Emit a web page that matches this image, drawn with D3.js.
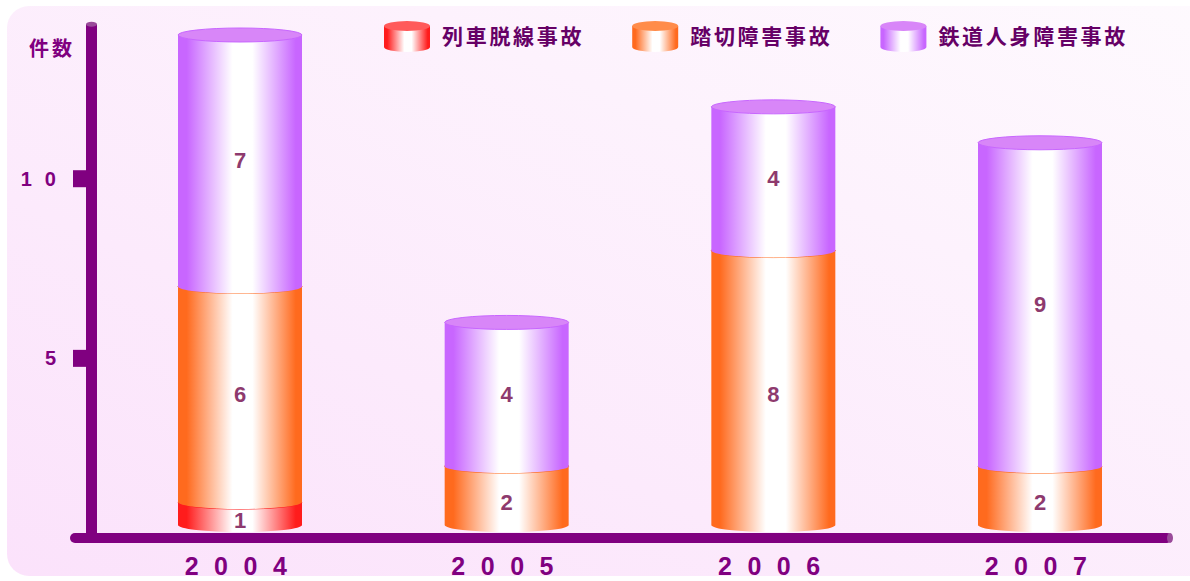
<!DOCTYPE html>
<html><head><meta charset="utf-8">
<script src="https://cdn.jsdelivr.net/npm/d3@7/dist/d3.min.js"></script>
<style>html,body{margin:0;padding:0;background:#fff;}svg{display:block;}</style>
</head><body>
<script>
const years = ["2004","2005","2006","2007"];
const seriesNames = ["列車脱線事故","踏切障害事故","鉄道人身障害事故"];
const derailment = [1,0,0,0];
const crossing = [6,2,8,2];
const injury = [7,4,4,9];
const yTicks = [5,10];
const yTickLabels = ["5","10"];
const yTitle = "件数";

const W=1190,H=581;
const colors = ["#ff1c1c","#ff6a1e","#c866ff"];
const topColors = ["#ff5a5a","#ff8c4a","#d886f8"];
const svg = d3.select("body").append("svg").attr("width",W).attr("height",H);
const defs = svg.append("defs");

const bg = defs.append("linearGradient").attr("id","bg").attr("x1",0).attr("y1",1).attr("x2",1).attr("y2",0);
bg.append("stop").attr("offset",0).attr("stop-color","#fbe2fb");
bg.append("stop").attr("offset",1).attr("stop-color","#fefafe");
colors.forEach((c,i)=>{
  const g = defs.append("linearGradient").attr("id","cyl"+i).attr("x1",0).attr("x2",1).attr("y1",0).attr("y2",0);
  [[0,c],[0.07,c],[0.44,"#ffffff"],[0.6,"#ffffff"],[0.95,c],[1,c]].forEach(s=>g.append("stop").attr("offset",s[0]).attr("stop-color",s[1]));
});

svg.append("rect").attr("x",7).attr("y",6).attr("width",1240).attr("height",570).attr("rx",22).attr("fill","url(#bg)");

const y = d3.scaleLinear().domain([0,14]).range([538,35]);
const x = d3.scalePoint().domain(years).range([240,1040]);
const bw=124, rx=bw/2, ry=7;
const baseBottom = y(0)-13;

const stacked = d3.stack().keys([0,1,2]).value((d,k)=>[derailment,crossing,injury][k][d])(d3.range(years.length));

function bodyPath(x0,yt,yb){
  return `M${x0},${yt}L${x0},${yb}A${rx},${ry} 0 0 0 ${x0+bw},${yb}L${x0+bw},${yt}Z`;
}
const barsG = svg.append("g");
years.forEach((yr,i)=>{
  const cx = x(yr), x0 = cx-bw/2;
  const segs = stacked.map((s,k)=>({k, v0:s[i][0], v1:s[i][1]})).filter(d=>d.v1>d.v0);
  segs.forEach((d,j)=>{
    const yt = y(d.v1);
    const yb = j===0 ? baseBottom : y(d.v0);
    const g = barsG.append("g");
    g.append("path").attr("d",bodyPath(x0,yt,yb)).attr("fill",`url(#cyl${d.k})`);
    g.append("ellipse").attr("cx",cx).attr("cy",yt).attr("rx",rx).attr("ry",ry)
      .attr("fill",topColors[d.k]).attr("stroke",colors[d.k]).attr("stroke-width",1);
  });
  segs.forEach(d=>{
    barsG.append("text").attr("x",cx).attr("y",(y(d.v0)+y(d.v1))/2).attr("dy","0.35em")
      .attr("text-anchor","middle").attr("font-family","Liberation Sans, Arial, sans-serif")
      .attr("font-weight","bold").attr("font-size",22).attr("fill","#8e3a6e")
      .text(d.v1-d.v0);
  });
});

// axes
const axisCol="#800080";
const ax = svg.append("g");
ax.append("rect").attr("x",86).attr("y",y(14.3)).attr("width",11).attr("height",y(0)-y(14.3)).attr("fill",axisCol);
ax.append("ellipse").attr("cx",91.5).attr("cy",y(14.3)).attr("rx",5.5).attr("ry",2.5).attr("fill","#9a4a9a");
ax.append("rect").attr("x",70).attr("y",y(0)-5).attr("width",1102).attr("height",10).attr("rx",5).attr("fill",axisCol);
ax.append("ellipse").attr("cx",1170).attr("cy",y(0)).attr("rx",3).attr("ry",5).attr("fill","#9a4a9a");
yTicks.forEach((t,i)=>{
  ax.append("rect").attr("x",73).attr("y",y(t)-8.5).attr("width",14).attr("height",17).attr("fill",axisCol);
  ax.append("text").attr("x",69).attr("y",y(t)+7).attr("text-anchor","end")
    .attr("font-family","Liberation Sans, Arial, sans-serif").attr("font-weight","bold").attr("font-size",20)
    .attr("letter-spacing",13).attr("fill",axisCol).text(yTickLabels[i]);
});
ax.append("text").attr("x",29).attr("y",56).attr("font-family","Noto Sans CJK JP").attr("font-weight","bold")
  .attr("font-size",20).attr("letter-spacing",3).attr("fill",axisCol).text(yTitle);
years.forEach(yr=>{
  ax.append("text").attr("x",x(yr)).attr("dx",3.5).attr("y",575).attr("text-anchor","middle")
    .attr("font-family","Liberation Sans, Arial, sans-serif").attr("font-weight","bold").attr("font-size",25)
    .attr("letter-spacing",15.5).attr("fill",axisCol).text(yr);
});

// legend
const lg = svg.append("g");
let lx = 384;
seriesNames.forEach((n,k)=>{
  const sw=46, t=26, b=47, r=5;
  lg.append("path").attr("d",`M${lx},${t}L${lx},${b}A${sw/2},${r} 0 0 0 ${lx+sw},${b}L${lx+sw},${t}Z`).attr("fill",`url(#cyl${k})`);
  lg.append("ellipse").attr("cx",lx+sw/2).attr("cy",t).attr("rx",sw/2).attr("ry",r).attr("fill",topColors[k]);
  const tx = lg.append("text").attr("x",lx+58).attr("y",44).attr("font-family","Noto Sans CJK JP")
    .attr("font-weight","bold").attr("font-size",21).attr("letter-spacing",2.7).attr("fill","#660066").text(n);
  lx = lx+58+tx.node().getComputedTextLength()+48;
});
</script>
</body></html>
